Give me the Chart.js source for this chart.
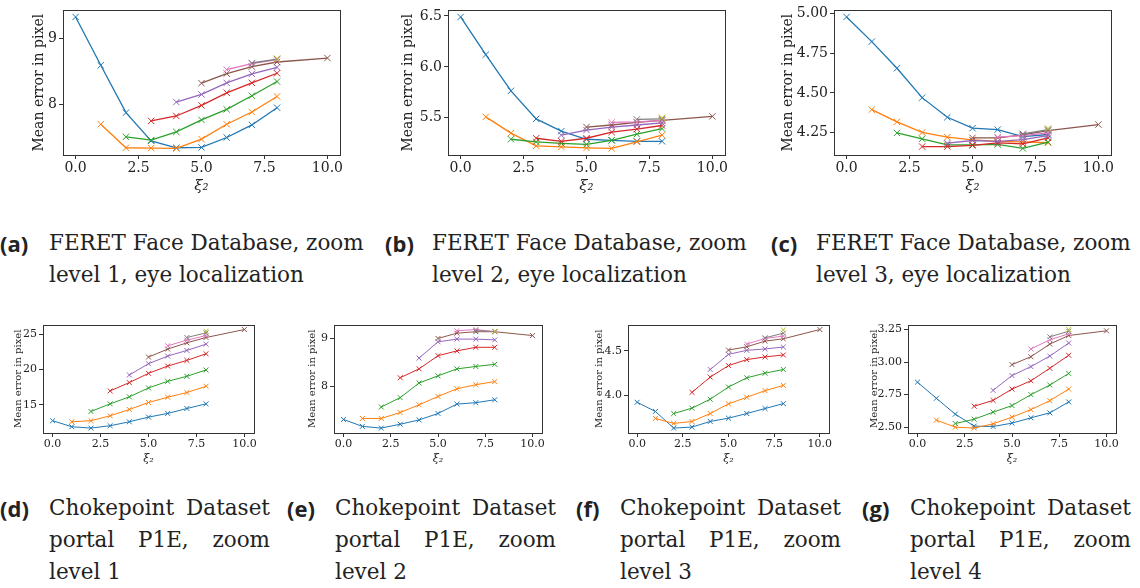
<!DOCTYPE html>
<html>
<head>
<meta charset="utf-8">
<script src="https://cdn.jsdelivr.net/npm/chart.js@4/dist/chart.umd.min.js"></script>
<style>
  body { margin: 0; background: #fff; width: 1140px; height: 588px; position: relative; overflow: hidden; }
  canvas { position: absolute; }
  .cap { position: absolute; font-family: "DejaVu Serif", serif; font-size: 21.5px; color: #222; line-height: 32px; white-space: nowrap; }
  .lab { position: absolute; font-family: "Open Sans", sans-serif; font-weight: 700; font-size: 22px; color: #222; line-height: 32px; }
  .row { display: flex; justify-content: space-between; }
</style>
</head>
<body>
<canvas id="a" width="319" height="195" style="left:31px;top:0"></canvas>
<canvas id="b" width="335" height="195" style="left:400px;top:0"></canvas>
<canvas id="c" width="345" height="195" style="left:780px;top:0"></canvas>
<canvas id="d" width="253" height="150" style="left:12px;top:316px"></canvas>
<canvas id="e" width="246" height="150" style="left:306px;top:316px"></canvas>
<canvas id="f" width="247" height="150" style="left:593px;top:316px"></canvas>
<canvas id="g" width="259" height="150" style="left:868px;top:316px"></canvas>

<div class="lab" style="left:0;top:227px">(a)</div>
<div class="cap" style="left:49px;top:227px">FERET Face Database, zoom<br>level 1, eye localization</div>
<div class="lab" style="left:385px;top:227px">(b)</div>
<div class="cap" style="left:432px;top:227px">FERET Face Database, zoom<br>level 2, eye localization</div>
<div class="lab" style="left:771px;top:227px">(c)</div>
<div class="cap" style="left:816px;top:227px">FERET Face Database, zoom<br>level 3, eye localization</div>

<div class="lab" style="left:0;top:492px">(d)</div>
<div class="cap" style="left:49px;top:492px;width:221px"><div class="row"><span>Chokepoint</span><span>Dataset</span></div><div class="row"><span>portal</span><span>P1E,</span><span>zoom</span></div><div>level 1</div></div>
<div class="lab" style="left:287px;top:492px">(e)</div>
<div class="cap" style="left:335px;top:492px;width:221px"><div class="row"><span>Chokepoint</span><span>Dataset</span></div><div class="row"><span>portal</span><span>P1E,</span><span>zoom</span></div><div>level 2</div></div>
<div class="lab" style="left:576px;top:492px">(f)</div>
<div class="cap" style="left:620px;top:492px;width:221px"><div class="row"><span>Chokepoint</span><span>Dataset</span></div><div class="row"><span>portal</span><span>P1E,</span><span>zoom</span></div><div>level 3</div></div>
<div class="lab" style="left:862px;top:492px">(g)</div>
<div class="cap" style="left:910px;top:492px;width:221px"><div class="row"><span>Chokepoint</span><span>Dataset</span></div><div class="row"><span>portal</span><span>P1E,</span><span>zoom</span></div><div>level 4</div></div>

<script>
// x positions of each series (xi_2 values)
const xPos = [
  [0, 1, 2, 3, 4, 5, 6, 7, 8],
  [1, 2, 3, 4, 5, 6, 7, 8],
  [2, 3, 4, 5, 6, 7, 8],
  [3, 4, 5, 6, 7, 8],
  [4, 5, 6, 7, 8],
  [5, 6, 7, 8, 10],
  [6, 7, 8],
  [7, 8],
  [8]
];
const colors = ['#1f77b4', '#ff7f0e', '#2ca02c', '#d62728', '#9467bd', '#8c564b', '#e377c2', '#7f7f7f', '#bcbd22'];
const xTicks = [0, 2.5, 5, 7.5, 10];

// (a) FERET zoom level 1
const feret1 = [
  [9.32, 8.59, 7.875, 7.45, 7.345, 7.35, 7.50, 7.69, 7.95],
  [7.70, 7.345, 7.34, 7.335, 7.475, 7.70, 7.885, 8.12],
  [7.51, 7.46, 7.585, 7.765, 7.925, 8.13, 8.345],
  [7.75, 7.825, 7.985, 8.175, 8.325, 8.47],
  [8.035, 8.15, 8.325, 8.46, 8.56],
  [8.32, 8.465, 8.57, 8.64, 8.70],
  [8.525, 8.615, 8.675],
  [8.625, 8.685],
  [8.69]
];
const feret1Ticks = [8, 9];

// (b) FERET zoom level 2
const feret2 = [
  [6.49, 6.12, 5.765, 5.49, 5.37, 5.29, 5.28, 5.27, 5.27],
  [5.51, 5.35, 5.225, 5.215, 5.205, 5.20, 5.265, 5.33],
  [5.29, 5.265, 5.25, 5.24, 5.28, 5.34, 5.395],
  [5.30, 5.27, 5.30, 5.36, 5.39, 5.425],
  [5.33, 5.38, 5.41, 5.43, 5.45],
  [5.41, 5.43, 5.455, 5.475, 5.515],
  [5.455, 5.46, 5.475],
  [5.485, 5.49],
  [5.50]
];
const feret2Ticks = [5.5, 6.0, 6.5];

// (c) FERET zoom level 3
const feret3 = [
  [4.98, 4.824, 4.656, 4.47, 4.346, 4.277, 4.268, 4.224, 4.237],
  [4.394, 4.317, 4.25, 4.22, 4.203, 4.193, 4.19, 4.185],
  [4.247, 4.21, 4.172, 4.172, 4.174, 4.149, 4.189],
  [4.161, 4.161, 4.168, 4.184, 4.178, 4.216],
  [4.182, 4.199, 4.193, 4.205, 4.23],
  [4.216, 4.216, 4.235, 4.262, 4.30],
  [4.22, 4.23, 4.247],
  [4.241, 4.268],
  [4.275]
];
const feret3Ticks = [4.25, 4.5, 4.75, 5.0];

// (d) Chokepoint zoom level 1
const choke1 = [
  [12.75, 11.9, 11.71, 12.04, 12.6, 13.26, 13.78, 14.48, 15.14],
  [12.6, 12.75, 13.45, 14.34, 15.33, 16.08, 16.74, 17.63],
  [14.06, 15.14, 16.13, 17.39, 18.33, 19.04, 19.93],
  [16.97, 18.15, 19.46, 20.49, 21.29, 22.23],
  [19.23, 20.82, 21.9, 22.7, 23.59],
  [21.76, 22.89, 23.78, 24.53, 25.66],
  [23.36, 24.15, 24.81],
  [24.53, 25.19],
  [25.42]
];
const choke1Ticks = [15, 20, 25];

// (e) Chokepoint zoom level 2
const choke2 = [
  [7.31, 7.165, 7.13, 7.21, 7.30, 7.435, 7.63, 7.66, 7.72],
  [7.33, 7.33, 7.455, 7.615, 7.79, 7.95, 8.035, 8.10],
  [7.57, 7.765, 8.07, 8.22, 8.365, 8.415, 8.46],
  [8.18, 8.365, 8.64, 8.74, 8.815, 8.815],
  [8.59, 8.93, 8.986, 8.986, 8.97],
  [9.0, 9.11, 9.14, 9.14, 9.06],
  [9.16, 9.186, 9.14],
  [9.165, 9.145],
  [9.15]
];
const choke2Ticks = [8, 9];

// (f) Chokepoint zoom level 3
const choke3 = [
  [3.922, 3.819, 3.633, 3.644, 3.707, 3.744, 3.796, 3.852, 3.907],
  [3.741, 3.685, 3.707, 3.796, 3.904, 3.978, 4.052, 4.111],
  [3.796, 3.856, 3.956, 4.093, 4.196, 4.248, 4.289],
  [4.033, 4.204, 4.333, 4.40, 4.43, 4.452],
  [4.289, 4.459, 4.504, 4.519, 4.541],
  [4.507, 4.544, 4.607, 4.633, 4.737],
  [4.574, 4.637, 4.663],
  [4.644, 4.696],
  [4.733]
];
const choke3Ticks = [4.0, 4.5];

// (g) Chokepoint zoom level 4
const choke4 = [
  [2.845, 2.721, 2.599, 2.507, 2.504, 2.53, 2.571, 2.609, 2.693],
  [2.553, 2.499, 2.492, 2.525, 2.576, 2.634, 2.703, 2.792],
  [2.527, 2.56, 2.614, 2.665, 2.749, 2.823, 2.912],
  [2.66, 2.705, 2.792, 2.856, 2.952, 3.052],
  [2.782, 2.896, 2.965, 3.046, 3.146],
  [2.98, 3.041, 3.138, 3.204, 3.24],
  [3.10, 3.171, 3.217],
  [3.194, 3.237],
  [3.25]
];
const choke4Ticks = [2.5, 2.75, 3.0, 3.25];

// box around the plot area, like matplotlib spines
const frame = {
  id: 'frame',
  afterDraw(chart) {
    const a = chart.chartArea, ctx = chart.ctx;
    ctx.save();
    ctx.strokeStyle = '#333';
    ctx.lineWidth = 1;
    ctx.strokeRect(Math.round(a.left) + 0.5, Math.round(a.top) + 0.5, Math.round(a.right - a.left), Math.round(a.bottom - a.top));
    ctx.restore();
  }
};

const serif = "'DejaVu Serif', serif";

function panel(id, series, yTicks, decimals, o) {
  const all = series.flat();
  const lo = Math.min(...all), hi = Math.max(...all), pad = (hi - lo) * 0.05;
  const datasets = series.map((ys, i) => ({
    data: ys.map((y, j) => ({ x: xPos[i][j], y: y })),
    borderColor: colors[i],
    backgroundColor: colors[i],
    borderWidth: o.lw,
    pointStyle: 'crossRot',
    pointRadius: o.pr,
    pointBorderWidth: 1,
    tension: 0,
    order: 20 - i
  }));
  const tickFont = { family: serif, size: o.fs };
  new Chart(document.getElementById(id), {
    type: 'line',
    data: { datasets },
    options: {
      responsive: false,
      animation: false,
      layout: { padding: { top: o.top, right: o.right, left: 0, bottom: 0 } },
      plugins: { legend: { display: false }, tooltip: { enabled: false } },
      scales: {
        x: {
          type: 'linear', min: -0.5, max: 10.5,
          afterBuildTicks: s => { s.ticks = xTicks.map(v => ({ value: v })); },
          afterFit: s => { s.height = o.xh; },
          border: { display: false },
          grid: { drawOnChartArea: false, tickLength: 4, tickColor: '#333' },
          ticks: { font: tickFont, color: '#222', padding: 1, maxRotation: 0, callback: v => v.toFixed(1) },
          title: { display: true, text: 'ξ₂', font: { family: serif, size: o.ls + 1, style: 'italic' }, color: '#222', padding: 0 }
        },
        y: {
          type: 'linear', min: lo - pad, max: hi + pad,
          afterBuildTicks: s => { s.ticks = yTicks.map(v => ({ value: v })); },
          afterFit: s => { s.width = o.yw; },
          border: { display: false },
          grid: { drawOnChartArea: false, tickLength: 4, tickColor: '#333' },
          ticks: { font: tickFont, color: '#222', padding: 2, callback: v => v.toFixed(decimals) },
          title: { display: true, text: 'Mean error in pixel', font: { family: serif, size: o.ls }, color: '#222', padding: 0 }
        }
      }
    },
    plugins: [frame]
  });
}

const big = { fs: 14, ls: 14, lw: 1.3, pr: 4.5, top: 10, xh: 40 };
const small = { fs: 11, ls: 10, lw: 1, pr: 3.5, top: 8, xh: 33 };
panel('a', feret1, feret1Ticks, 0, { ...big, yw: 32, right: 10 });
panel('b', feret2, feret2Ticks, 1, { ...big, yw: 48, right: 10 });
panel('c', feret3, feret3Ticks, 2, { ...big, yw: 54, right: 14 });
panel('d', choke1, choke1Ticks, 0, { ...small, yw: 31, right: 11 });
panel('e', choke2, choke2Ticks, 0, { ...small, yw: 28, right: 10 });
panel('f', choke3, choke3Ticks, 1, { ...small, yw: 35, right: 11 });
panel('g', choke4, choke4Ticks, 2, { ...small, yw: 40, right: 11 });
</script>
</body>
</html>
